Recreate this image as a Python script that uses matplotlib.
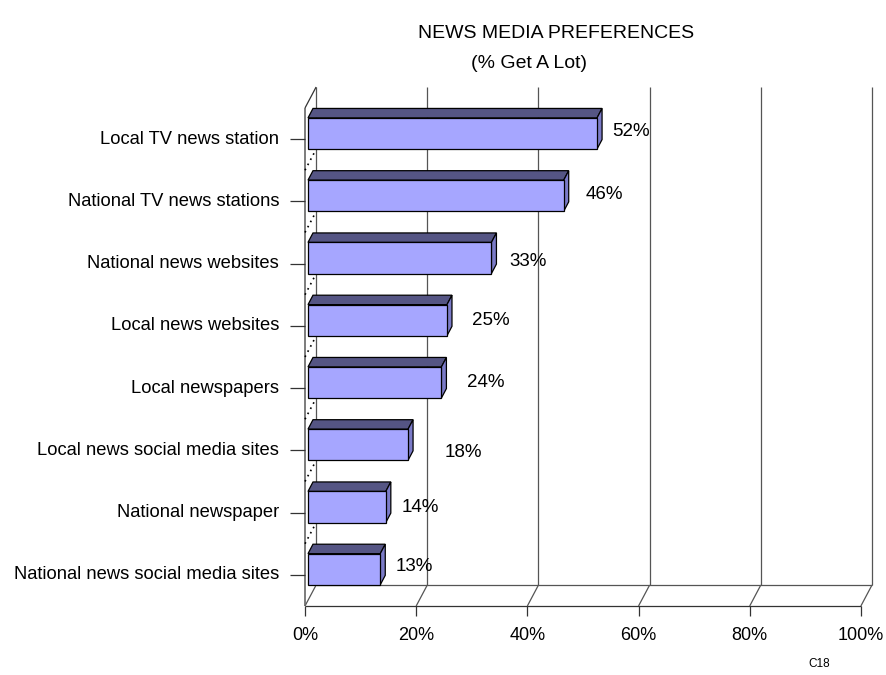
import matplotlib
matplotlib.use("Agg")
import matplotlib.pyplot as plt
from matplotlib.patches import Polygon

# ---- data ----
categories = [
    "Local TV news station",
    "National TV news stations",
    "National news websites",
    "Local news websites",
    "Local newspapers",
    "Local news social media sites",
    "National newspaper",
    "National news social media sites",
]
values = [52, 46, 33, 25, 24, 18, 14, 13]
x_ticks = [0, 20, 40, 60, 80, 100]
x_tick_labels = ["0%", "20%", "40%", "60%", "80%", "100%"]
title = "NEWS MEDIA PREFERENCES"
subtitle = "(% Get A Lot)"
footnote = "C18"

# per-label nudges (pixels) for the value labels
label_dx = [18, 25, 21, 28, 29, 40, 19, 18]
label_dy = [8, 7, 2, 5, 6, -2, 5, 8]

# ---- styling ----
FONT = ["Liberation Sans", "DejaVu Sans"]
plt.rcParams["font.family"] = FONT
FRONT = "#A6A6FF"
TOP = "#555584"
SIDE = "#7B7BC8"
GRID = "#555555"

# oblique depth offset (x in % units, y in category units)
DX, DY = 2.0, 0.337
D1, D2 = 0.27, 0.72     # bar depth span
HALF = 0.25             # half bar thickness

W, H = 887, 675
fig = plt.figure(figsize=(W / 100, H / 100), dpi=100)
x0px, x1px, ybot, ytop = 305, 872, 606, 87
ax = fig.add_axes([x0px / W, (H - ybot) / H, (x1px - x0px) / W, (ybot - ytop) / H])
n = len(categories)
ax.set_xlim(0, 100 + DX)
ax.set_ylim(0, n + DY)
ax.axis("off")


def P(x, y, d):
    return (x + d * DX, y + d * DY)


def seg(p, q, **kw):
    ax.plot([p[0], q[0]], [p[1], q[1]], clip_on=False, solid_capstyle="butt", **kw)


# back wall gridlines
for t in x_ticks:
    seg(P(t, 0, 1), P(t, n, 1), color=GRID, lw=0.9, zorder=1)
# floor
seg(P(0, 0, 1), P(100, 0, 1), color=GRID, lw=0.9, zorder=1)
seg(P(0, 0, 0), P(100, 0, 0), color="#333333", lw=0.9, zorder=1)
for t in x_ticks:
    seg(P(t, 0, 0), P(t, 0, 1), color=GRID, lw=0.9, zorder=1)
    seg(P(t, 0, 0), (t, -10 / 62.25), color="#333333", lw=0.9, zorder=1)
# left wall
seg(P(0, 0, 0), P(0, n, 0), color="#666666", lw=1.2, zorder=1)
seg(P(0, n, 0), P(0, n, 1), color="#333333", lw=0.9, zorder=1)
for k in range(1, n):
    seg(P(0, k, 0), P(0, k, 1), color="black", lw=1.2, ls=(0, (1, 2.5)), zorder=1)

# x tick labels
for t, lab in zip(x_ticks, x_tick_labels):
    ax.annotate(lab, (t, 0), xytext=(0, -29), textcoords="offset pixels",
                ha="center", va="center", fontsize=13, annotation_clip=False)

# bars
for i, (cat, v) in enumerate(zip(categories, values)):
    c = n - 1 - i + 0.5
    lo, hi = c - HALF, c + HALF
    front = [P(0, lo, D1), P(v, lo, D1), P(v, hi, D1), P(0, hi, D1)]
    top = [P(0, hi, D1), P(v, hi, D1), P(v, hi, D2), P(0, hi, D2)]
    side = [P(v, lo, D1), P(v, hi, D1), P(v, hi, D2), P(v, lo, D2)]
    for poly, col in ((top, TOP), (side, SIDE), (front, FRONT)):
        ax.add_patch(Polygon(poly, closed=True, facecolor=col, edgecolor="black",
                             lw=0.9, joinstyle="miter", zorder=3, clip_on=False))
    # category tick + label
    seg((0, c), (-15 / 5.56, c), color="#333333", lw=0.9, zorder=1)
    ax.annotate(cat, (0, c), xytext=(-26, 0), textcoords="offset pixels",
                ha="right", va="center", fontsize=13.2, annotation_clip=False)
    # value label
    ax.annotate(f"{v}%", (v, c), xytext=(label_dx[i], label_dy[i]),
                textcoords="offset pixels", ha="left", va="center",
                fontsize=13.5, annotation_clip=False, zorder=5)

fig.text(556 / W, 1 - 33 / H, title, ha="center", va="center", fontsize=14)
fig.text(529 / W, 1 - 63 / H, subtitle, ha="center", va="center", fontsize=14)
fig.text(819 / W, 1 - 664 / H, footnote, ha="center", va="center", fontsize=8.5)

fig.savefig("out.png", dpi=100)
